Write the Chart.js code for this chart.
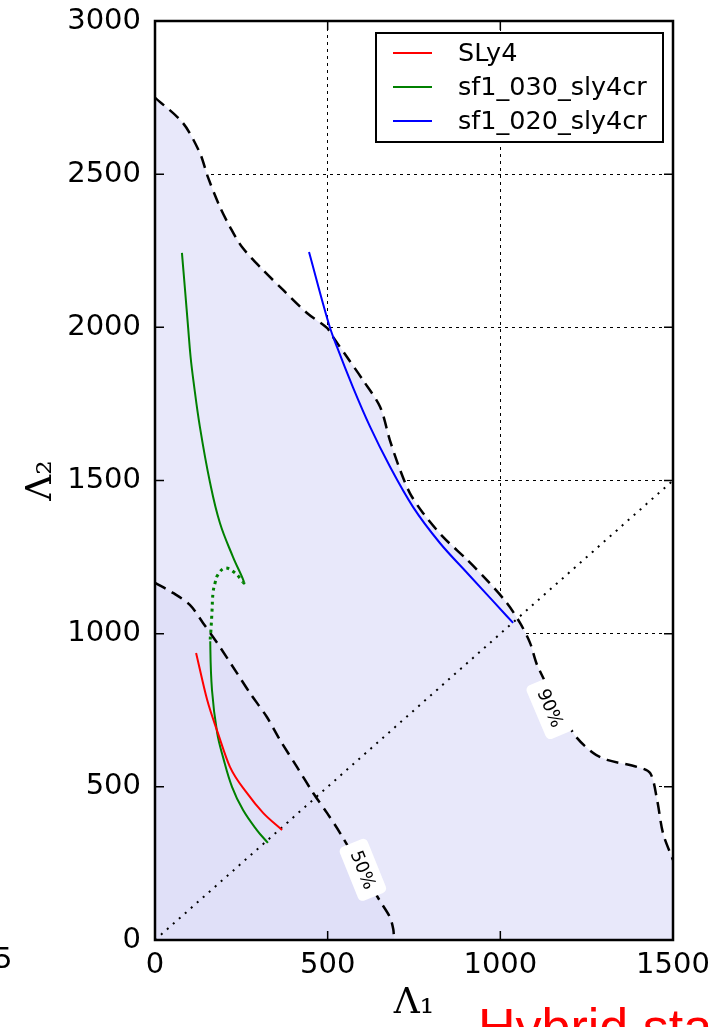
<!DOCTYPE html>
<html>
<head>
<meta charset="utf-8">
<script src="https://cdn.jsdelivr.net/npm/chart.js@4.4.1/dist/chart.umd.min.js"></script>
<style>
    html, body { margin: 0; padding: 0; background: #fff; }
    #wrap { position: relative; width: 715px; height: 1027px; }
</style>
</head>
<body>
<div id="wrap"><canvas id="chart"></canvas></div>
<script>
// ------------------------------------------
// Dados (Λ1 × Λ2)
// ------------------------------------------
const xTicks = [0, 500, 1000, 1500];
const yTicks = [0, 500, 1000, 1500, 2000, 2500, 3000];

// contorno 90%
const c90X = [0, 81, 130, 153, 188, 217, 252, 313, 371, 440, 498, 515, 556, 602, 652, 680, 710,
              738, 776, 834, 904, 961, 1019, 1057, 1086, 1109, 1211, 1268, 1309, 1396, 1434, 1454, 1471, 1500];
const c90Y = [2750, 2667, 2569, 2491, 2393, 2328, 2262, 2187, 2122, 2047, 1998, 1969, 1903, 1828, 1740, 1632, 1534,
              1459, 1394, 1316, 1241, 1175, 1100, 1035, 970, 891, 676, 611, 588, 565, 545, 457, 349, 261];

// contorno 50%
const c50X = [0, 52, 101, 139, 180, 237, 275, 324, 362, 411, 458, 498, 536, 650, 680, 690, 692];
const c50Y = [1166, 1133, 1094, 1035, 970, 872, 806, 728, 653, 565, 480, 415, 349, 130, 75, 35, 0];

// SLy4
const sly4X = [119, 151, 182, 217, 266, 313, 368];
const sly4Y = [937, 784, 676, 565, 480, 415, 359];

// sf1_030_sly4cr (índices 9..17 = ramo pontilhado)
const sf030X = [78, 87, 96, 103, 111, 130, 159, 188, 226, 258, 232, 203, 182, 174, 168, 165, 162, 160,
                165, 180, 197, 223, 255, 295, 327];
const sf030Y = [2243, 2122, 1998, 1904, 1828, 1675, 1495, 1361, 1250, 1166, 1198, 1214, 1192, 1166, 1133, 1071, 1012, 975,
                816, 676, 597, 500, 424, 359, 317];
const DOT_FROM = 9, DOT_TO = 17;

// sf1_020_sly4cr
const sf020X = [446, 507, 527, 573, 623, 681, 747, 825, 904, 979, 1037];
const sf020Y = [2246, 1998, 1936, 1805, 1675, 1544, 1414, 1296, 1198, 1106, 1035];

// diagonal Λ1 = Λ2
const diagX = [0, 1500];
const diagY = [0, 1500];

// rótulos dos contornos
const contourLabels = ['50%', '90%'];
const contourLabelX = [602, 1144];
const contourLabelY = [229, 757];
const contourLabelAngle = [68, 67];

const FONT = "'DejaVu Sans', sans-serif";

const pts = (xs, ys) => xs.map((x, i) => ({ x, y: ys[i] }));

// ------------------------------------------
// Plugin: rótulos, moldura, ticks internos, legenda
// ------------------------------------------
const decorPlugin = {
    id: 'decor',
    afterDatasetsDraw(chart) {
        const { ctx, chartArea: a, scales: { x, y } } = chart;

        // rótulos dos contornos
        ctx.save();
        ctx.font = '18px ' + FONT;
        ctx.textAlign = 'center';
        ctx.textBaseline = 'middle';
        contourLabels.forEach((txt, i) => {
            const px = x.getPixelForValue(contourLabelX[i]);
            const py = y.getPixelForValue(contourLabelY[i]);
            ctx.save();
            ctx.translate(px, py);
            ctx.rotate(contourLabelAngle[i] * Math.PI / 180);
            ctx.fillStyle = '#fff';
            ctx.beginPath();
            ctx.roundRect(-29, -15, 58, 30, 5);
            ctx.fill();
            ctx.fillStyle = '#000';
            ctx.fillText(txt, 0, 1);
            ctx.restore();
        });
        ctx.restore();

        // moldura
        ctx.save();
        ctx.strokeStyle = '#000';
        ctx.lineWidth = 2.5;
        ctx.strokeRect(a.left, a.top, a.right - a.left, a.bottom - a.top);

        // ticks internos (estilo matplotlib)
        ctx.lineWidth = 1.5;
        ctx.beginPath();
        xTicks.forEach(v => {
            const px = x.getPixelForValue(v);
            ctx.moveTo(px, a.bottom); ctx.lineTo(px, a.bottom - 9);
            ctx.moveTo(px, a.top); ctx.lineTo(px, a.top + 9);
        });
        yTicks.forEach(v => {
            const py = y.getPixelForValue(v);
            ctx.moveTo(a.left, py); ctx.lineTo(a.left + 9, py);
            ctx.moveTo(a.right, py); ctx.lineTo(a.right - 9, py);
        });
        ctx.stroke();
        ctx.restore();

        // legenda
        const items = chart.data.datasets.filter(d => d.inLegend);
        const bx = a.right - 297, by = a.top + 12, bw = 287, bh = 109;
        ctx.save();
        ctx.fillStyle = '#fff';
        ctx.fillRect(bx, by, bw, bh);
        ctx.strokeStyle = '#000';
        ctx.lineWidth = 2;
        ctx.strokeRect(bx, by, bw, bh);
        ctx.font = '25.5px ' + FONT;
        ctx.textBaseline = 'middle';
        ctx.textAlign = 'left';
        items.forEach((d, i) => {
            const ly = by + 20 + i * 34;
            ctx.strokeStyle = d.borderColor;
            ctx.lineWidth = 2;
            ctx.beginPath();
            ctx.moveTo(bx + 17, ly);
            ctx.lineTo(bx + 56, ly);
            ctx.stroke();
            ctx.fillStyle = '#000';
            ctx.fillText(d.label, bx + 82, ly + 1);
        });
        ctx.restore();
    },
    afterDraw(chart) {
        const { ctx } = chart;
        ctx.save();
        // restos de painéis vizinhos
        ctx.fillStyle = '#000';
        ctx.font = '29px ' + FONT;
        ctx.textBaseline = 'middle';
        ctx.fillText('5', -6, 960);
        ctx.fillStyle = '#ff0000';
        ctx.font = "52px 'Liberation Sans', Arial, sans-serif";
        ctx.textBaseline = 'alphabetic';
        ctx.fillText('Hybrid star', 478, 1045);
        ctx.restore();
    }
};

// remove o acolchoamento automático dos rótulos para fixar a área do gráfico
const noPad = s => { s.paddingTop = 0; s.paddingBottom = 0; s.paddingLeft = 0; s.paddingRight = 0; };

// ------------------------------------------
// Gráfico
// ------------------------------------------
const lineBase = { pointRadius: 0, pointHoverRadius: 0, fill: false, cubicInterpolationMode: 'monotone' };

new Chart(document.getElementById('chart'), {
    type: 'line',
    data: {
        datasets: [
            {
                ...lineBase, label: 'SLy4', inLegend: true, order: 1,
                data: pts(sly4X, sly4Y), borderColor: '#ff0000', borderWidth: 2
            },
            {
                ...lineBase, label: 'sf1_030_sly4cr', inLegend: true, order: 2,
                cubicInterpolationMode: 'default', tension: 0.4,
                data: pts(sf030X, sf030Y), borderColor: '#008000', borderWidth: 2,
                segment: {
                    borderDash: c => (c.p0DataIndex >= DOT_FROM && c.p1DataIndex <= DOT_TO) ? [3, 4] : undefined,
                    borderWidth: c => (c.p0DataIndex >= DOT_FROM && c.p1DataIndex <= DOT_TO) ? 3 : undefined
                }
            },
            {
                ...lineBase, label: 'sf1_020_sly4cr', inLegend: true, order: 3,
                data: pts(sf020X, sf020Y), borderColor: '#0000ff', borderWidth: 2
            },
            {
                ...lineBase, label: 'diag', order: 7,
                data: pts(diagX, diagY), borderColor: '#000', borderWidth: 2,
                borderDash: [2, 6]
            },
            {
                ...lineBase, label: '50%', order: 8,
                cubicInterpolationMode: 'default', tension: 0.3,
                data: pts(c50X, c50Y), borderColor: '#000', borderWidth: 2.5,
                borderDash: [12, 7], fill: 'origin', backgroundColor: 'rgb(224,224,248)'
            },
            {
                ...lineBase, label: '90%', order: 9,
                cubicInterpolationMode: 'default', tension: 0.3,
                data: pts(c90X, c90Y), borderColor: '#000', borderWidth: 2.5,
                borderDash: [12, 7], fill: 'origin', backgroundColor: 'rgb(232,232,250)'
            }
        ]
    },
    options: {
        responsive: true,
        maintainAspectRatio: false,
        animation: false,
        layout: { padding: { top: 21, right: 42, bottom: 0, left: 0 } },
        plugins: {
            legend: { display: false },
            tooltip: { enabled: false }
        },
        scales: {
            x: {
                type: 'linear',
                min: 0, max: 1500,
                afterFit: s => { s.height = 87; noPad(s); },
                afterBuildTicks: s => { s.ticks = xTicks.map(v => ({ value: v })); },
                ticks: {
                    color: '#000', padding: 8, maxRotation: 0,
                    font: { family: FONT, size: 29 },
                    callback: v => String(v)
                },
                grid: { color: '#000', lineWidth: 1, drawTicks: false },
                border: { display: false, dash: [3, 4] },
                title: {
                    display: true, text: 'Λ₁', color: '#000',
                    font: { family: "'DejaVu Serif', serif", size: 36 },
                    padding: { top: 0, bottom: 2 }
                }
            },
            y: {
                type: 'linear',
                min: 0, max: 3000,
                afterFit: s => { s.width = 155; noPad(s); },
                afterBuildTicks: s => { s.ticks = yTicks.map(v => ({ value: v })); },
                ticks: {
                    color: '#000', padding: 14,
                    font: { family: FONT, size: 29 },
                    callback: v => String(v)
                },
                grid: { color: '#000', lineWidth: 1, drawTicks: false },
                border: { display: false, dash: [3, 4] },
                title: {
                    display: true, text: 'Λ₂', color: '#000',
                    font: { family: "'DejaVu Serif', serif", size: 36 },
                    padding: { top: 20, bottom: 0 }
                }
            }
        }
    },
    plugins: [decorPlugin]
});
</script>
</body>
</html>
